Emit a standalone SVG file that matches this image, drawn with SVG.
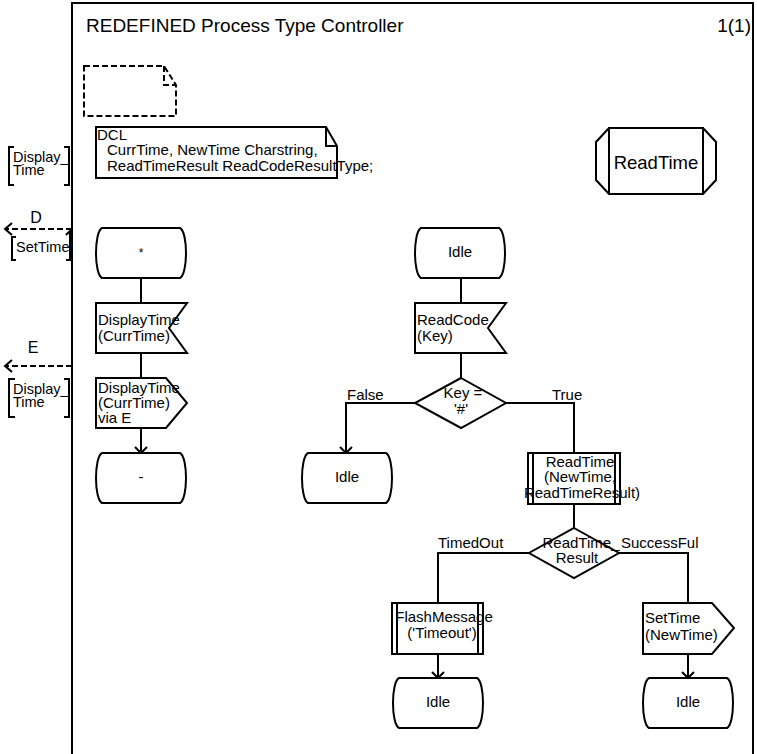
<svg xmlns="http://www.w3.org/2000/svg" width="757" height="754" viewBox="0 0 757 754">
<style>
text{font-family:"Liberation Sans",Arial,Helvetica,sans-serif;font-size:15px;fill:#000}
.s{fill:#fff;stroke:#000;stroke-width:2;stroke-linejoin:miter}
.n{fill:none;stroke:#000;stroke-width:2}
.d{fill:none;stroke:#000;stroke-width:2;stroke-dasharray:6 3}
.c{text-anchor:middle}
.big{font-size:19px}
.lbl{font-size:16px}
.g{font-size:14.5px}
</style>
<defs>
<marker id="ah" markerUnits="userSpaceOnUse" viewBox="0 0 8 14" refX="7" refY="7" markerWidth="8" markerHeight="14" orient="auto" overflow="visible">
<path d="M1,1 L7,7 L1,13" fill="none" stroke="#000" stroke-width="2"/>
</marker>
</defs>
<rect width="757" height="754" fill="#fff"/>
<g id="frame">
<rect x="72" y="3" width="681" height="780" class="n"/>
<text x="86" y="32" class="big">REDEFINED Process Type Controller</text>
<text x="751" y="32" class="big" text-anchor="end">1(1)</text>
</g>
<g id="textExt">
<path d="M84,66 H164 L176,85 V116 H84 Z" class="d"/>
<path d="M164,66 V85 H176" class="d"/>
</g>
<g id="dcl">
<path d="M96,127 H326 L337,146 V178 H96 Z" class="s"/>
<path d="M326,127 V146 H337" class="n"/>
<text x="97" y="140">DCL</text>
<text x="107" y="155">CurrTime, NewTime Charstring,</text>
<text x="107" y="171">ReadTimeResult ReadCodeResultType;</text>
</g>
<g id="procRef">
<rect x="609" y="128" width="94" height="66" class="s"/>
<path d="M609,128 L596,142 V180 L609,194" class="n"/>
<path d="M703,128 L716,142 V180 L703,194" class="n"/>
<text x="656" y="169" class="c" style="font-size:18.5px">ReadTime</text>
</g>
<g id="gate1">
<path d="M14,147 H9 V185 H14" class="n"/>
<path d="M64,147 H69 V185 H64" class="n"/>
<text x="13" y="162" class="g">Display_</text>
<text x="13" y="175" class="g">Time</text>
</g>
<g id="routeD">
<path d="M72,229 H6" class="d"/>
<path d="M12,223 L5,229 L12,235" class="n"/>
<text x="36" y="223" class="lbl c">D</text>
</g>
<g id="gate2">
<path d="M16,237 H12 V260 H16" class="n"/>
<path d="M66,235 L70,231 V260 H66" class="n"/>
<text x="16" y="252" class="g">SetTime</text>
</g>
<g id="routeE">
<path d="M72,366 H6" class="d"/>
<path d="M12,360 L5,366 L12,372" class="n"/>
<text x="33" y="353" class="lbl c">E</text>
</g>
<g id="gate3">
<path d="M15,379 H9 V417 H15" class="n"/>
<path d="M64,379 H69 V417 H64" class="n"/>
<text x="13" y="394" class="g">Display_</text>
<text x="13" y="407" class="g">Time</text>
</g>
<g id="connectors">
<path d="M141,278 V303" class="n"/>
<path d="M141,353 V378" class="n"/>
<path d="M141,428 V453" class="n" marker-end="url(#ah)"/>
<path d="M461,278 V303" class="n"/>
<path d="M461,353 V378" class="n"/>
<path d="M415,403 H346 V453" class="n" marker-end="url(#ah)"/>
<path d="M506,403 H574 V453" class="n"/>
<path d="M574,504 V528" class="n"/>
<path d="M529,553 H438 V603" class="n"/>
<path d="M619,553 H688 V603" class="n"/>
<path d="M438,654 V678" class="n" marker-end="url(#ah)"/>
<path d="M688,654 V678" class="n" marker-end="url(#ah)"/>
<text x="347" y="400">False</text>
<text x="552" y="400">True</text>
<text x="438" y="548">TimedOut</text>
<text x="621" y="548">SuccessFul</text>
</g>
<g id="stateStar">
<path d="M102,228 H180 C188,232 188,274 180,278 H102 C94,274 94,232 102,228 Z" class="s"/>
<text x="141" y="257" class="c" style="font-size:12px">*</text>
</g>
<g id="inputDisplayTime">
<polygon points="96,303 187,303 169,328 187,353 96,353" class="s"/>
<text x="98" y="325">DisplayTime</text>
<text x="98" y="341">(CurrTime)</text>
</g>
<g id="outputDisplayTime">
<polygon points="96,378 166,378 187,403 166,428 96,428" class="s"/>
<text x="98" y="393">DisplayTime</text>
<text x="98" y="408">(CurrTime)</text>
<text x="98" y="423">via E</text>
</g>
<g id="stateDash">
<path d="M102,453 H180 C188,457 188,499 180,503 H102 C94,499 94,457 102,453 Z" class="s"/>
<text x="141" y="482" class="c">-</text>
</g>
<g id="stateIdle1">
<path d="M421,228 H499 C507,232 507,274 499,278 H421 C413,274 413,232 421,228 Z" class="s"/>
<text x="460" y="257" class="c">Idle</text>
</g>
<g id="inputReadCode">
<polygon points="415,303 506,303 488,328 506,353 415,353" class="s"/>
<text x="417" y="325">ReadCode</text>
<text x="417" y="341">(Key)</text>
</g>
<g id="decisionKey">
<polygon points="461,378 506,403 461,428 415,403" class="s"/>
<text x="463" y="398" class="c">Key =</text>
<text x="461" y="414" class="c">'#'</text>
</g>
<g id="stateIdle2">
<path d="M308,453 H386 C394,457 394,499 386,503 H308 C300,499 300,457 308,453 Z" class="s"/>
<text x="347" y="482" class="c">Idle</text>
</g>
<g id="procReadTime">
<rect x="528" y="453" width="92" height="51" class="s"/>
<path d="M533,453 V504 M615,453 V504" class="n"/>
<text x="580" y="467" class="c">ReadTime</text>
<text x="580" y="482" class="c">(NewTime,</text>
<text x="582" y="498" class="c">ReadTimeResult)</text>
</g>
<g id="decisionResult">
<polygon points="574,528 619,553 574,578 529,553" class="s"/>
<text x="581" y="548" class="c">ReadTime_</text>
<text x="577" y="563" class="c">Result</text>
</g>
<g id="procFlash">
<rect x="392" y="603" width="91" height="51" class="s"/>
<path d="M397,603 V654 M478,603 V654" class="n"/>
<text x="444" y="622" class="c">FlashMessage</text>
<text x="442" y="638" class="c">('Timeout')</text>
</g>
<g id="outputSetTime">
<polygon points="643,603 712,603 734,628 712,654 643,654" class="s"/>
<text x="645" y="623">SetTime</text>
<text x="645" y="640">(NewTime)</text>
</g>
<g id="stateIdle3">
<path d="M399,678 H477 C485,682 485,724 477,728 H399 C391,724 391,682 399,678 Z" class="s"/>
<text x="438" y="707" class="c">Idle</text>
</g>
<g id="stateIdle4">
<path d="M649,678 H727 C735,682 735,724 727,728 H649 C641,724 641,682 649,678 Z" class="s"/>
<text x="688" y="707" class="c">Idle</text>
</g>
</svg>
